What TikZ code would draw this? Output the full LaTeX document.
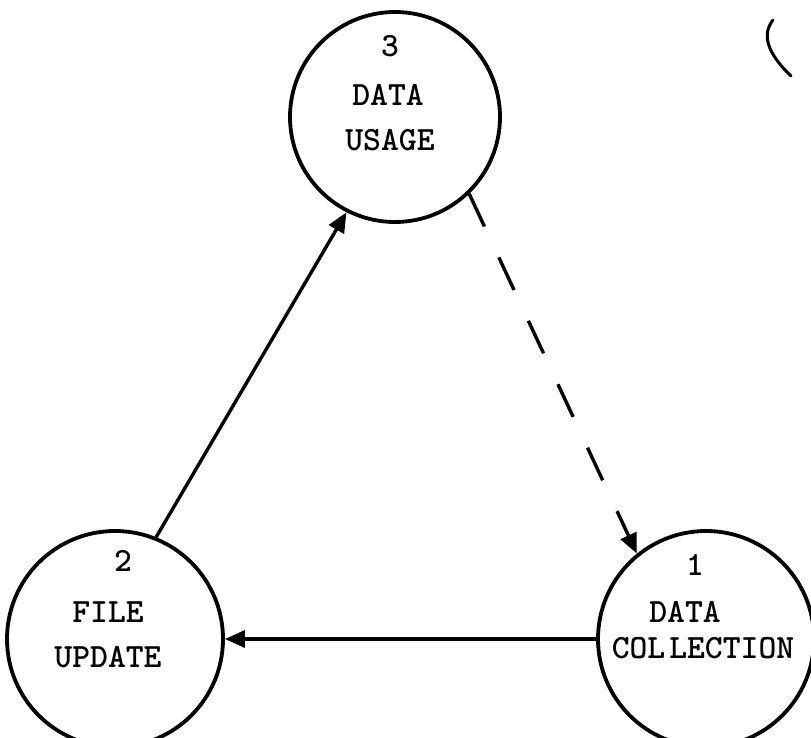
\documentclass[tikz,border=0pt]{standalone}
\usepackage{fontspec}
\usetikzlibrary{arrows.meta}
\newcommand{\twfont}{\ttfamily\bfseries\fontsize{34}{34}\selectfont}
\begin{document}
\begin{tikzpicture}[x=1pt,y=-1pt,
  proc/.style={circle,draw,line width=3.8pt,inner sep=0pt,minimum size=216pt},
  lbl/.style={font=\twfont,inner sep=0pt,anchor=center},
  arr/.style={line width=3.4pt,-{Triangle[length=20pt,width=17pt]}},
  dsh/.style={line width=3.4pt,dash pattern=on 36pt off 34pt,-{Triangle[length=20pt,width=17pt]}}]
\useasboundingbox (0,0) rectangle (811,738);
\begin{scope}
\clip (0,0) rectangle (811,738);
\node[proc,minimum size=210pt] (c3) at (395,117) {};
\node[proc] (c2) at (115,639) {};
\node[proc] (c1) at (706,639) {};
\node[lbl] (t3n) at (390,46) {3};
\node[lbl] (t3a) at (388,95) {DATA};
\node[lbl] (t3b) at (390,140) {USAGE};
\node[lbl] (t2n) at (123,561) {2};
\node[lbl] (t2a) at (108,612) {FILE};
\node[lbl] (t2b) at (108,657) {UPDATE};
\node[lbl] (t1n) at (695,565) {1};
\node[lbl] (t1a) at (685,612) {DATA};
\node[lbl] (t1b) at (703,648) {COL\hspace{4pt}LECTION};
\draw[arr] (c2.68) -- (c3.243);
\draw[dsh] (c3.314) -- (c1.129);
\draw[arr] (c1.180) -- (c2.0);
\draw[line width=3pt,line cap=round] (773,20) .. controls (762,34) and (766,52) .. (791,76);
\end{scope}
\end{tikzpicture}
\end{document}
